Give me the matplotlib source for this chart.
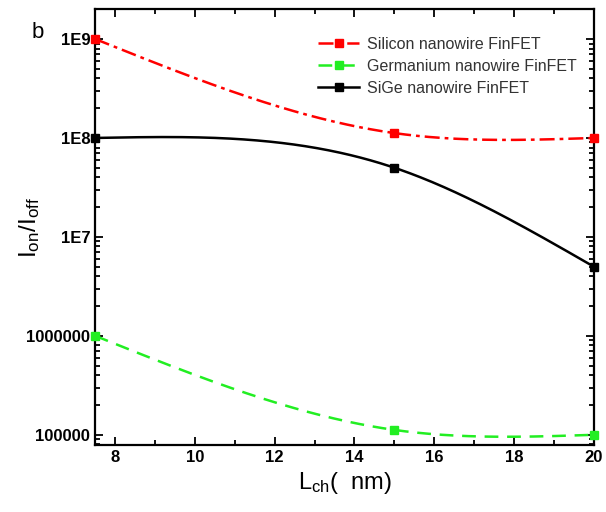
import numpy as np
import matplotlib
matplotlib.use('Agg')
from matplotlib import pyplot as plt
from matplotlib.ticker import MultipleLocator, LogLocator, NullFormatter

plt.rcParams['font.family'] = ['Liberation Sans', 'DejaVu Sans']
plt.rcParams['mathtext.fontset'] = 'custom'
plt.rcParams['mathtext.rm'] = 'Liberation Sans'
plt.rcParams['mathtext.it'] = 'Liberation Sans:italic'

lch = [7.5, 15, 20]
silicon = [1e9, 1.12e8, 1e8]
germanium = [1e6, 1.12e5, 1e5]
sige = [1e8, 5e7, 5e6]

names = ['Silicon nanowire FinFET', 'Germanium nanowire FinFET', 'SiGe nanowire FinFET']
colors = ['#ff0000', '#22ee22', '#000000']
dashes = [(6, 2, 1.5, 2), (5.5, 3.5), ()]


def natural_spline(x, y, xs):
    # natural cubic spline through the points (Origin-style smoothing)
    x = np.asarray(x, float)
    y = np.asarray(y, float)
    n = len(x)
    h = np.diff(x)
    A = np.zeros((n, n))
    b = np.zeros(n)
    A[0, 0] = A[-1, -1] = 1
    for i in range(1, n - 1):
        A[i, i - 1] = h[i - 1]
        A[i, i] = 2 * (h[i - 1] + h[i])
        A[i, i + 1] = h[i]
        b[i] = 6 * ((y[i + 1] - y[i]) / h[i] - (y[i] - y[i - 1]) / h[i - 1])
    M = np.linalg.solve(A, b)
    out = np.empty_like(xs)
    for j, xv in enumerate(xs):
        i = min(np.searchsorted(x, xv, side='right') - 1, n - 2)
        i = max(i, 0)
        t1 = x[i + 1] - xv
        t0 = xv - x[i]
        out[j] = (M[i] * t1 ** 3 + M[i + 1] * t0 ** 3) / (6 * h[i]) \
            + (y[i] / h[i] - M[i] * h[i] / 6) * t1 \
            + (y[i + 1] / h[i] - M[i + 1] * h[i] / 6) * t0
    return out


fig = plt.figure(figsize=(6.06, 5.12), dpi=100)
ax = fig.add_axes([0.157, 0.131, 0.823, 0.851])

xs = np.linspace(7.5, 20, 300)
for y, name, c, d in zip([silicon, germanium, sige], names, colors, dashes):
    line, = ax.plot(xs, 10 ** natural_spline(lch, np.log10(y), xs), color=c, lw=1.8)
    if d:
        line.set_dashes(d)
    ax.plot(lch, y, 's', color=c, ms=6, clip_on=False, zorder=5)
    # legend handle
    ax.plot([], [], color=c, lw=1.8, marker='s', ms=6, label=name,
            dashes=d if d else (None, None))

ax.set_yscale('log')
ax.set_xlim(7.5, 20)
ax.set_ylim(7.9e4, 2e9)
ax.xaxis.set_major_locator(MultipleLocator(2))
ax.xaxis.set_minor_locator(MultipleLocator(1))
ax.set_yticks([1e5, 1e6, 1e7, 1e8, 1e9],
              labels=['100000', '1000000', '1E7', '1E8', '1E9'])
ax.yaxis.set_minor_locator(LogLocator(base=10, subs=np.arange(2, 10)))
ax.yaxis.set_minor_formatter(NullFormatter())

ax.tick_params(which='both', direction='in', top=True, right=True, width=1.3)
ax.tick_params(which='major', length=6, labelsize=12)
ax.tick_params(which='minor', length=3.5)
for lab in ax.get_xticklabels() + ax.get_yticklabels():
    lab.set_fontweight('bold')
for s in ax.spines.values():
    s.set_linewidth(1.6)

ax.set_xlabel(r'L$_{\rm ch}$(  nm)', fontsize=17)
ax.set_ylabel(r'I$_{\rm on}$/I$_{\rm off}$', fontsize=17.5)
ax.yaxis.set_label_coords(-0.107, 0.5)
fig.text(0.052, 0.925, 'b', fontsize=16)

leg = ax.legend(loc='upper right', bbox_to_anchor=(0.995, 0.97), frameon=False,
                fontsize=11.5, handlelength=2.6, labelspacing=0.45, handletextpad=0.5)
for t in leg.get_texts():
    t.set_color('#333333')

plt.savefig('out.png', dpi=100)
